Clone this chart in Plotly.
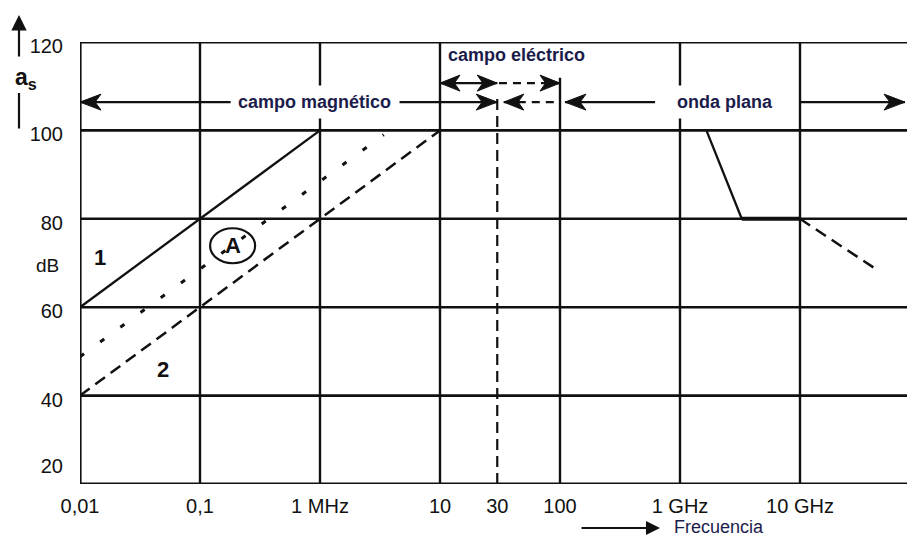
import numpy as np
import plotly.graph_objects as go

# ---------------- data ----------------
freq_ticks = [0.01, 0.1, 1, 10, 30, 100, 1000, 10000]
freq_labels = ["0,01", "0,1", "1 MHz", "10", "30", "100", "1 GHz", "10 GHz"]
db_ticks = [120, 100, 80, 60, 40, 24.9]
db_labels = ["120", "100", "80", "60", "40", "20"]

grid_db = [40, 60, 80, 100]
grid_freq = [0.1, 1, 10, 1000, 10000]
grid_freq_partial = [100]
grid_partial_top = [111.9]

curve1_f = [0.01, 1]
curve1_db = [60, 100]
curve2_f = [0.01, 10]
curve2_db = [40, 100]
curveA_f = [0.01, 3.4]
curveA_db = [48.8, 99]
plane_f = [1660, 3270, 10000]
plane_db = [100, 80, 80]
plane_ext_f = [10000, 44700]
plane_ext_db = [80, 68.3]

line30_f = [30, 30]
line30_db = [20, 108]

row_low_db = 106.4
row_up_db = 110.7
mag_segments = [(0.01, 0.18), (4.6, 30)]
mag_heads = [(0.01, -1), (30, 1)]
elec_up_solid = (10, 30)
elec_up_heads = [(10, -1), (30, 1), (100, 1)]
elec_up_dotted = (31, 100)
elec_low_heads = [(34, -1)]
elec_low_dotted = (34, 100)
onda_segments = [(110, 620), (10000, 75000)]
onda_heads = [(110, -1), (75000, 1)]

label_A = (0.187, 73.9)

# ---------------- layout constants ----------------
W, H = 907, 537
ML, MR, MT, MB = 80, 0, 42, 53
DEC_PX = 120.0
X_MIN_LOG = -2.0
X_MAX_LOG = X_MIN_LOG + (W - ML - MR) / DEC_PX
Y_MIN, Y_MAX = 20, 120
PX_PER_DB = (H - MT - MB) / (Y_MAX - Y_MIN)
F_MIN = 10 ** X_MIN_LOG
F_MAX = 10 ** X_MAX_LOG

FONT = "Liberation Sans, Arial, sans-serif"
NAVY = "#1c1c4c"
BLACK = "#111111"

fig = go.Figure()


def add_line(xs, ys, width=2.5, dash="solid", color=BLACK):
    fig.add_trace(go.Scatter(x=xs, y=ys, mode="lines",
                             line=dict(color=color, width=width, dash=dash),
                             hoverinfo="skip", showlegend=False))


def add_head(f_tip, db, direction, L=21, hh=8):
    tip = np.log10(f_tip)
    back = tip - direction * L / DEC_PX
    notch = tip - direction * 0.72 * L / DEC_PX
    dy = hh / PX_PER_DB
    xs = 10 ** np.array([tip, back, notch, back, tip])
    ys = [db, db + dy, db, db - dy, db]
    fig.add_trace(go.Scatter(x=xs, y=ys, mode="lines", fill="toself",
                             fillcolor=BLACK, line=dict(color=BLACK, width=1),
                             hoverinfo="skip", showlegend=False))


# grid lines
for g in grid_db:
    add_line([F_MIN, F_MAX], [g, g], width=2.6)
for g in grid_freq:
    add_line([g, g], [Y_MIN, Y_MAX], width=2.4)
for g, top in zip(grid_freq_partial, grid_partial_top):
    add_line([g, g], [Y_MIN, top], width=2.4)
# frame (left, top, bottom)
add_line([F_MIN, F_MIN], [Y_MIN, Y_MAX], width=3.2)
add_line([F_MIN, F_MAX], [Y_MAX, Y_MAX], width=3.2)
add_line([F_MIN, F_MAX], [Y_MIN, Y_MIN], width=3.2)

# 30 MHz dashed boundary
add_line(line30_f, line30_db, width=2.2, dash="11px,6px")

# curves
add_line(curve1_f, curve1_db, width=2.3)
add_line(curve2_f, curve2_db, width=2.5, dash="12px,7px")
add_line(curveA_f, curveA_db, width=3, dash="5px,20px")
add_line(plane_f, plane_db, width=2.3)
add_line(plane_f[1:], plane_db[1:], width=4)
add_line(plane_ext_f, plane_ext_db, width=2.5, dash="12px,7px")

# region arrows
for a, b in mag_segments:
    add_line([a, b], [row_low_db] * 2, width=2.3)
for f, d in mag_heads:
    add_head(f, row_low_db, d)
add_line(list(elec_up_solid), [row_up_db] * 2, width=2.3)
add_line(list(elec_up_dotted), [row_up_db] * 2, width=2.3, dash="8px,6px")
for f, d in elec_up_heads:
    add_head(f, row_up_db, d, L=20)
add_line(list(elec_low_dotted), [row_low_db] * 2, width=2.3, dash="8px,6px")
for f, d in elec_low_heads:
    add_head(f, row_low_db, d, L=20)
for a, b in onda_segments:
    add_line([a, b], [row_low_db] * 2, width=2.3)
for f, d in onda_heads:
    add_head(f, row_low_db, d)

annotations = [
    dict(x=np.log10(0.9), y=row_low_db, text="<b>campo magnético</b>",
         font=dict(family=FONT, size=18, color=NAVY), bgcolor="white",
         borderpad=6, showarrow=False),
    dict(x=np.log10(2350), y=row_low_db, text="<b>onda plana</b>",
         font=dict(family=FONT, size=18, color=NAVY), bgcolor="white",
         borderpad=6, showarrow=False),
    dict(x=np.log10(43), y=117.1, text="<b>campo eléctrico</b>",
         font=dict(family=FONT, size=18, color=NAVY), showarrow=False),
    dict(x=np.log10(0.0147), y=71.2, text="<b>1</b>",
         font=dict(family=FONT, size=22, color=BLACK), showarrow=False),
    dict(x=np.log10(0.0492), y=45.8, text="<b>2</b>",
         font=dict(family=FONT, size=22, color=BLACK), showarrow=False),
    dict(x=np.log10(label_A[0]), y=label_A[1], text="<b>A</b>",
         font=dict(family=FONT, size=22, color=BLACK), showarrow=False),
    # y axis title
    dict(xref="paper", x=0, xshift=-33, xanchor="center", yref="y", y=69.4,
         yanchor="middle", text="dB",
         font=dict(family=FONT, size=19, color=BLACK), showarrow=False),
    dict(xref="paper", x=0, xshift=-54, xanchor="center", yref="paper", y=1,
         yshift=-36, yanchor="middle", text="<b>a<sub>s</sub></b>",
         font=dict(family=FONT, size=23, color=BLACK), showarrow=False),
    dict(xref="paper", x=0, xshift=-61, yref="paper", y=1, yshift=27,
         text="", showarrow=True, ax=0, ay=43, arrowhead=2, arrowsize=1.4,
         arrowwidth=2.2, arrowcolor=BLACK),
    dict(xref="paper", x=0, xshift=-61, yref="paper", y=1, yshift=-51,
         text="", showarrow=True, ax=0, ay=37, arrowhead=0,
         arrowwidth=2.2, arrowcolor=BLACK),
    # x axis title
    dict(xref="paper", x=0, xshift=580, yref="paper", y=0, yshift=-44,
         text="", showarrow=True, ax=-96, ay=0, arrowhead=2, arrowsize=1.4,
         arrowwidth=2, arrowcolor=BLACK),
    dict(xref="paper", x=0, xshift=592, xanchor="left", yref="paper", y=0,
         yshift=-43, yanchor="middle", text="Frecuencia",
         font=dict(family=FONT, size=18, color=NAVY), showarrow=False),
]

xa_paper = (np.log10(label_A[0]) - X_MIN_LOG) / (X_MAX_LOG - X_MIN_LOG)

fig.update_layout(
    width=W, height=H,
    margin=dict(l=ML, r=MR, t=MT, b=MB),
    paper_bgcolor="white", plot_bgcolor="white",
    showlegend=False,
    annotations=annotations,
    shapes=[dict(type="circle", xref="paper", yref="y",
                 xsizemode="pixel", ysizemode="pixel",
                 xanchor=xa_paper, yanchor=label_A[1],
                 x0=-22.5, x1=22.5, y0=-17.5, y1=17.5,
                 line=dict(color=BLACK, width=2.2))],
    xaxis=dict(type="log", range=[X_MIN_LOG, X_MAX_LOG],
               showgrid=False, zeroline=False, showline=False,
               tickmode="array", tickvals=freq_ticks, ticktext=freq_labels,
               ticks="", ticklabelstandoff=8,
               tickfont=dict(family=FONT, size=20, color=BLACK)),
    yaxis=dict(range=[Y_MIN, Y_MAX], showgrid=False, zeroline=False,
               showline=False, tickmode="array", tickvals=db_ticks,
               ticktext=db_labels, ticks="", ticklabelstandoff=16,
               ticklabelshift=4,
               tickfont=dict(family=FONT, size=20, color=BLACK)),
)

fig.write_html("out.html")
